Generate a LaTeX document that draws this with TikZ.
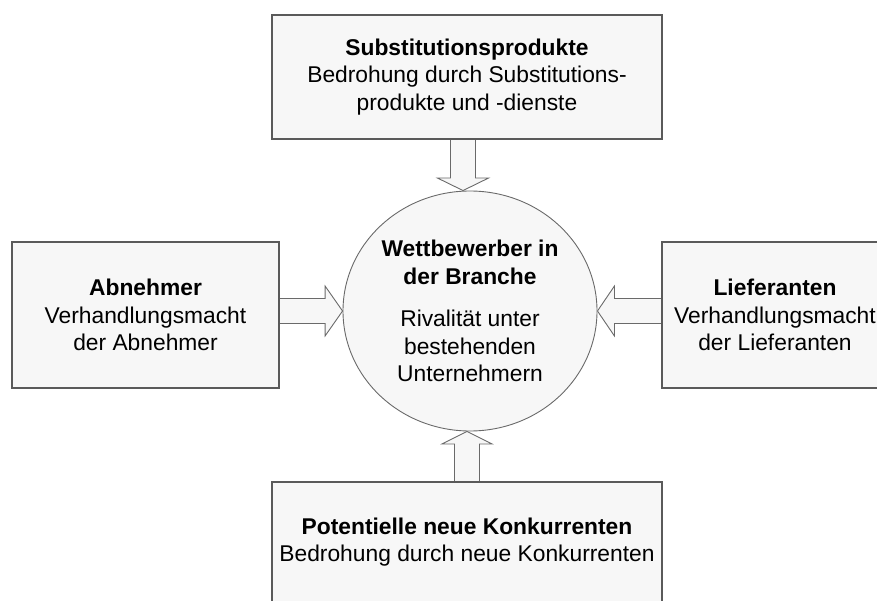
\documentclass[tikz,border=0pt]{standalone}
\usepackage{fontspec}
\setmainfont{Liberation Sans}
\usetikzlibrary{calc,shapes.geometric,backgrounds}
\definecolor{panel}{HTML}{F7F7F7}
\definecolor{edge}{HTML}{5A5A5A}
\definecolor{arrowedge}{HTML}{6A6A6A}
\begin{document}
\begin{tikzpicture}[x=1pt,y=-1pt,
  every node/.style={font=\fontsize{22.8pt}{27.5pt}\selectfont, align=center, text=black},
  forcebox/.style={draw=edge, line width=1.3pt, fill=panel, inner sep=0pt},
  rivalry/.style={ellipse, draw=arrowedge, line width=0.9pt, fill=panel, inner sep=0pt,
                  minimum width=254pt, minimum height=240pt},
  blockarrow/.style={draw=arrowedge, line width=0.9pt, fill=panel, line join=miter}]
\useasboundingbox (0,0) rectangle (877,601);
\clip (0,0) rectangle (877,601);

% the five forces
\node[forcebox, minimum width=390pt, minimum height=124pt] (substitutes) at (467,77)
  {\textbf{Substitutionsprodukte}\\Bedrohung durch Substitutions-\\produkte und -dienste};
\node[forcebox, minimum width=267pt, minimum height=146pt] (buyers) at (145.5,315)
  {\textbf{Abnehmer}\\Verhandlungsmacht\\der Abnehmer};
\node[forcebox, minimum width=226pt, minimum height=146pt] (suppliers) at (775,315)
  {\textbf{Lieferanten}\\Verhandlungsmacht\\der Lieferanten};
\node[forcebox, minimum width=390pt, minimum height=120pt] (entrants) at (467,542)
  {\textbf{Potentielle neue Konkurrenten}\\Bedrohung durch neue Konkurrenten};
\node[rivalry] (rivals) at (470,311)
  {\textbf{Wettbewerber in}\\\textbf{der Branche}\\[15pt]Rivalität unter\\bestehenden\\Unternehmern};

% block arrows pointing at the centre
\coordinate (sa) at ($(substitutes.south)+(-4,0)$);
\coordinate (st) at (sa |- rivals.north);
\coordinate (ea) at (entrants.north);
\coordinate (et) at (ea |- rivals.south);
\coordinate (ba) at (buyers.east |- rivals.west);
\coordinate (bt) at (rivals.west);
\coordinate (la) at (suppliers.west |- rivals.east);
\coordinate (lt) at (rivals.east);

\begin{scope}[on background layer]
\draw[blockarrow] ($(sa)+(-12.5,0)$) -- ($(st)+(-12.5,-12.5)$) -- ($(st)+(-25.5,-12.5)$)
  -- (st) -- ($(st)+(25.5,-12.5)$) -- ($(st)+(12.5,-12.5)$) -- ($(sa)+(12.5,0)$);
\draw[blockarrow] ($(ea)+(-12.5,0)$) -- ($(et)+(-12.5,12.5)$) -- ($(et)+(-25,12.5)$)
  -- (et) -- ($(et)+(25,12.5)$) -- ($(et)+(12.5,12.5)$) -- ($(ea)+(12.5,0)$);
\draw[blockarrow] ($(ba)+(0,-12.5)$) -- ($(bt)+(-17.5,-12.5)$) -- ($(bt)+(-17.5,-25)$)
  -- (bt) -- ($(bt)+(-17.5,25)$) -- ($(bt)+(-17.5,12.5)$) -- ($(ba)+(0,12.5)$);
\draw[blockarrow] ($(la)+(0,-12.5)$) -- ($(lt)+(17,-12.5)$) -- ($(lt)+(17,-25)$)
  -- (lt) -- ($(lt)+(17,25)$) -- ($(lt)+(17,12.5)$) -- ($(la)+(0,12.5)$);
\end{scope}
\end{tikzpicture}
\end{document}
